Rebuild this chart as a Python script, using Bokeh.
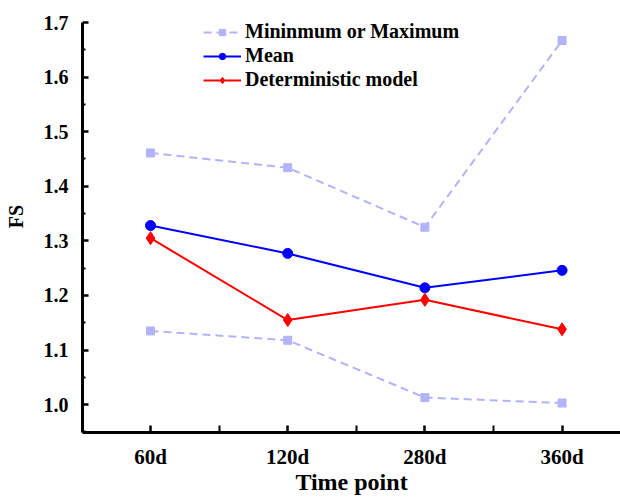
from bokeh.plotting import figure
from bokeh.models import FixedTicker, Range1d, Legend, LegendItem, CustomJSTickFormatter
from bokeh.embed import file_html
from bokeh.resources import INLINE

# Safety factor (FS) at each time point
categories = ["60d", "120d", "280d", "360d"]
fs_max = [1.461, 1.434, 1.325, 1.667]
fs_min = [1.135, 1.118, 1.013, 1.003]
fs_mean = [1.328, 1.277, 1.214, 1.246]
fs_det = [1.305, 1.155, 1.192, 1.138]

x = list(range(1, len(categories) + 1))

FONT = "Liberation Serif"
LAV = "#b3b3fa"

# y range runs a little past 1.7 so the legend has room; the axis line stops at 1.7
p = figure(width=620, height=497, output_backend="svg", toolbar_location=None,
           x_range=Range1d(0.504, 4.426), y_range=Range1d(0.949, 1.7403),
           min_border_left=82, min_border_right=0, min_border_top=0,
           min_border_bottom=65)
p.outline_line_color = None
p.grid.visible = False
p.background_fill_color = "white"
p.border_fill_color = "white"

# min / max envelope
r_max_line = p.line(x, fs_max, line_color=LAV, line_width=2, line_dash="8 5")
r_max_pts = p.scatter(x, fs_max, marker="square", size=8, fill_color=LAV, line_color=LAV)
p.line(x, fs_min, line_color=LAV, line_width=2, line_dash="8 5")
p.scatter(x, fs_min, marker="square", size=8, fill_color=LAV, line_color=LAV)

# mean of the probabilistic runs
r_mean_line = p.line(x, fs_mean, line_color="#0000ff", line_width=2)
r_mean_pts = p.scatter(x, fs_mean, marker="circle", size=10, fill_color="#0000ff", line_color="#0000ff")

# deterministic model
r_det_line = p.line(x, fs_det, line_color="#ff0000", line_width=2)
r_det_pts = p.scatter(x, fs_det, marker="diamond", size=13, fill_color="#ff0000", line_color="#ff0000")

# axes
xa = p.xaxis[0]
xa.ticker = FixedTicker(ticks=x, minor_ticks=[1.5, 2.5, 3.5])
xa.major_label_overrides = {i: c for i, c in zip(x, categories)}
ya = p.yaxis[0]
ya.bounds = (0.949, 1.7)
ya.ticker = FixedTicker(ticks=[1.0, 1.1, 1.2, 1.3, 1.4, 1.5, 1.6, 1.7],
                        minor_ticks=[0.95, 1.05, 1.15, 1.25, 1.35, 1.45, 1.55, 1.65])
ya.formatter = CustomJSTickFormatter(code="return tick.toFixed(1);")

for ax in (xa, ya):
    ax.axis_line_width = 3
    ax.axis_line_color = "black"
    ax.major_tick_line_width = 2.5
    ax.minor_tick_line_width = 2
    ax.major_tick_out = 0
    ax.minor_tick_out = 0
    ax.major_label_text_font = FONT
    ax.major_label_text_font_style = "bold"
    ax.major_label_text_color = "black"
    ax.axis_label_text_font = FONT
    ax.axis_label_text_font_style = "bold"
    ax.axis_label_text_color = "black"

xa.major_tick_in = 7
xa.minor_tick_in = 7
xa.major_label_text_font_size = "21px"
xa.major_label_standoff = 12
xa.axis_label = "Time point"
xa.axis_label_text_font_size = "24px"
xa.axis_label_standoff = -3

ya.major_tick_in = 6
ya.minor_tick_in = 3
ya.major_label_text_font_size = "20px"
ya.major_label_standoff = 14
ya.axis_label = "FS"
ya.axis_label_text_font_size = "20px"
ya.axis_label_standoff = 14

legend = Legend(items=[
    LegendItem(label="Mininmum or Maximum", renderers=[r_max_line, r_max_pts]),
    LegendItem(label="Mean", renderers=[r_mean_line, r_mean_pts]),
    LegendItem(label="Deterministic model", renderers=[r_det_line, r_det_pts]),
], location=(121, 341))
legend.border_line_color = None
legend.background_fill_alpha = 0
legend.padding = 0
legend.margin = 0
legend.spacing = 1
legend.glyph_width = 38
legend.glyph_height = 16
legend.label_height = 16
legend.label_standoff = 4
legend.label_text_font = FONT
legend.label_text_font_style = "bold"
legend.label_text_font_size = "20px"
legend.label_text_color = "black"
p.add_layout(legend, "center")

open("out.html", "w").write(file_html(p, INLINE))
